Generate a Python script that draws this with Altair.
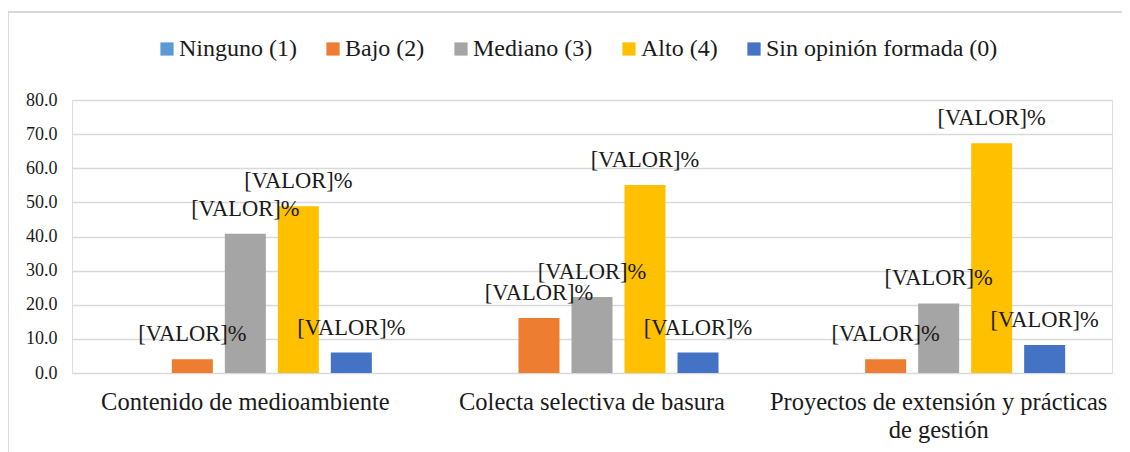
import altair as alt
import pandas as pd

categories = ["Contenido de medioambiente", "Colecta selectiva de basura",
              "Proyectos de extensión y prácticas de gestión"]
series = ["Ninguno (1)", "Bajo (2)", "Mediano (3)", "Alto (4)", "Sin opinión formada (0)"]
colors = ["#5B9BD5", "#ED7D31", "#A5A5A5", "#FFC000", "#4472C4"]

ninguno = [0.0, 0.0, 0.0]
bajo = [4.0, 16.1, 4.0]
mediano = [40.8, 22.3, 20.4]
alto = [48.9, 55.1, 67.3]
sin_opinion = [6.0, 6.0, 8.2]
y_ticks = [0, 10, 20, 30, 40, 50, 60, 70, 80]
label_text = "[VALOR]%"

rows = []
for s, vals in zip(series, [ninguno, bajo, mediano, alto, sin_opinion]):
    for c, v in zip(categories, vals):
        rows.append({"categoria": c, "serie": s, "valor": v,
                     "etiqueta": label_text if v > 0 else ""})
df = pd.DataFrame(rows)

FONT = "Liberation Serif, Times New Roman, serif"
TXT = "#1a1a1a"

x_enc = alt.X("categoria:N", sort=categories, title=None,
              scale=alt.Scale(paddingInner=0.2356, paddingOuter=0.1178),
              axis=alt.Axis(labelAngle=0, labelFont=FONT, labelFontSize=24.5,
                            labelColor=TXT, labelPadding=17, ticks=False,
                            domain=False, labelLimit=500, labelLineHeight=28,
                            labelExpr="datum.label == 'Proyectos de extensión y prácticas de gestión' ? ['Proyectos de extensión y prácticas', 'de gestión'] : datum.label"))
xoff = alt.XOffset("serie:N", sort=series,
                   scale=alt.Scale(paddingInner=0.226, paddingOuter=0.113))
y_enc = alt.Y("valor:Q", title=None,
              scale=alt.Scale(domain=[0, 80], nice=False),
              axis=alt.Axis(values=y_ticks, format=".1f", labelOverlap=False,
                            labelFont=FONT, labelFontSize=18, labelColor=TXT,
                            labelPadding=15, ticks=False, domain=False,
                            gridColor="#D9D9D9", gridWidth=1.5))

base = alt.Chart(df)

bars = base.mark_bar().encode(
    x=x_enc, xOffset=xoff, y=y_enc,
    color=alt.Color("serie:N", sort=series, title=None,
                    scale=alt.Scale(domain=series, range=colors),
                    legend=alt.Legend(orient="none", direction="horizontal",
                                      legendX=83, legendY=-63, padding=0,
                                      symbolType="square", symbolSize=175,
                                      symbolStrokeWidth=0, labelOffset=0,
                                      columnPadding=24, labelFont=FONT,
                                      labelFontSize=24, labelColor=TXT,
                                      labelLimit=400)),
)

labels = base.mark_text(font=FONT, fontSize=22.5, color=TXT,
                        baseline="middle", dy=-25).encode(
    x=x_enc, xOffset=xoff, y=y_enc,
    text="etiqueta:N",
)

frame_left = alt.Chart(df).mark_rule(color="#D9D9D9", strokeWidth=1.5).encode(
    x=alt.value(-64), y=alt.value(-88), y2=alt.value(400))
frame_top = alt.Chart(df).mark_rule(color="#D9D9D9", strokeWidth=1.5).encode(
    x=alt.value(-64), x2=alt.value(1200), y=alt.value(-88))

chart = alt.layer(bars, labels, frame_left, frame_top).properties(
    width=1040, height=273,
    autosize=alt.AutoSizeParams(type="none"),
    padding={"left": 64, "top": 92, "right": 10, "bottom": 80},
).configure_view(stroke=None).configure(
    background="white", font=FONT
).configure_legend(labelFont=FONT, labelFontSize=24, labelColor=TXT)

chart.save("out.html", embed_options={"renderer": "svg", "actions": False})
